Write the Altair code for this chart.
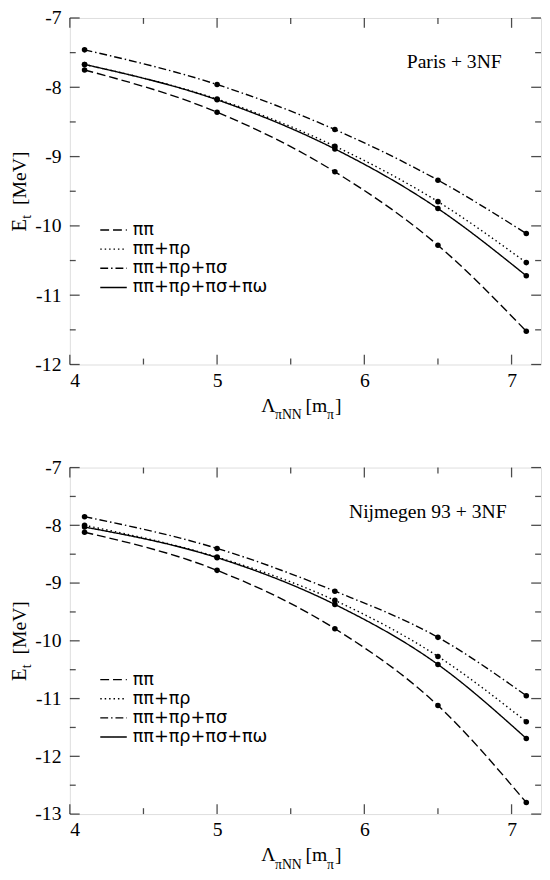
import altair as alt
import pandas as pd

# ---- data ----
lam = [4.1, 5.0, 5.8, 6.5, 7.1]
series = ["ππ", "ππ+πρ", "ππ+πρ+πσ", "ππ+πρ+πσ+πω"]

paris_pipi = [-7.75, -8.36, -9.22, -10.28, -11.52]
paris_pirho = [-7.67, -8.17, -8.85, -9.65, -10.53]
paris_pisigma = [-7.46, -7.96, -8.61, -9.34, -10.11]
paris_piomega = [-7.67, -8.18, -8.89, -9.75, -10.72]

nij_pipi = [-8.12, -8.78, -9.79, -11.12, -12.80]
nij_pirho = [-8.00, -8.55, -9.30, -10.27, -11.40]
nij_pisigma = [-7.85, -8.40, -9.14, -9.94, -10.95]
nij_piomega = [-8.03, -8.56, -9.37, -10.41, -11.69]

x_major = [4, 5, 6, 7]
x_minor = [4.5, 5.5, 6.5]

FONT = "'Liberation Serif', 'DejaVu Serif', serif"
LEG_FONT = "'DejaVu Sans', sans-serif"
W, H = 480, 353
XMIN, XMAX = 4, 7.2
dashes = [[9, 4], [1.5, 3], [8, 3, 1.5, 3], [1, 0]]


def panel(vals, ymin, ymax, label, label_x):
    rows = [{"lam": l, "E": v, "series": s}
            for s, arr in zip(series, vals) for l, v in zip(lam, arr)]
    df = pd.DataFrame(rows)
    y_major = list(range(ymin, ymax + 1))
    y_minor = [v + 0.5 for v in range(ymin, ymax)]

    xs = alt.Scale(domain=[XMIN, XMAX], nice=False, zero=False)
    ys = alt.Scale(domain=[ymin, ymax], nice=False, zero=False)
    xax = alt.Axis(values=x_major, title=None, ticks=False, domain=False, grid=False,
                   labelPadding=6, labelFontSize=20, labelFont=FONT, labelColor="black",
                   labelExpr="'' + datum.value")
    yax = alt.Axis(values=y_major, title=None, ticks=False, domain=False, grid=False,
                   labelPadding=9, labelFontSize=20, labelFont=FONT, labelColor="black",
                   labelExpr="'' + datum.value")

    base = alt.Chart(df)
    lines = base.mark_line(interpolate="monotone", color="black", strokeWidth=1.4).encode(
        x=alt.X("lam:Q", scale=xs, axis=xax),
        y=alt.Y("E:Q", scale=ys, axis=yax),
        strokeDash=alt.StrokeDash("series:N", scale=alt.Scale(domain=series, range=dashes), legend=None),
        detail="series:N",
    )
    points = base.mark_circle(size=32, color="black", opacity=1).encode(
        x=alt.X("lam:Q", scale=xs, axis=xax),
        y=alt.Y("E:Q", scale=ys, axis=yax),
    )

    layers = [lines, points]

    def xticks(vals_, size, at, off):
        d = pd.DataFrame({"v": vals_})
        return alt.Chart(d).mark_tick(orient="vertical", size=size, thickness=1.3,
                                      color="black", yOffset=off).encode(
            x=alt.X("v:Q", scale=xs, axis=xax),
            y=alt.YDatum(at, type="quantitative", scale=ys, axis=yax),
        )

    def yticks(vals_, size, at, off):
        d = pd.DataFrame({"v": vals_})
        return alt.Chart(d).mark_tick(orient="horizontal", size=size, thickness=1.3,
                                      color="black", xOffset=off).encode(
            y=alt.Y("v:Q", scale=ys, axis=yax),
            x=alt.XDatum(at, type="quantitative", scale=xs, axis=xax),
        )

    layers += [
        xticks(x_major, 10, ymin, -5), xticks(x_minor, 6, ymin, -3),
        xticks(x_major, 10, ymax, 5), xticks(x_minor, 6, ymax, 3),
        yticks(y_major, 10, XMIN, 5), yticks(y_minor, 6, XMIN, 3),
        yticks(y_major, 10, XMAX, -5), yticks(y_minor, 6, XMAX, -3),
    ]

    one = pd.DataFrame({"a": [0]})

    def txt(s, x, y, size, font=FONT, **kw):
        return alt.Chart(one).mark_text(text=s, font=font, fontSize=size, color="black", **kw).encode(
            x=alt.value(x), y=alt.value(y))

    row_y = [216, 235.5, 255, 274.5]
    for s, dsh, ry in zip(series, dashes, row_y):
        layers.append(alt.Chart(one).mark_rule(color="black", strokeWidth=1.4, strokeDash=dsh).encode(
            x=alt.value(31), x2=alt.value(58), y=alt.value(ry)))
        layers.append(txt(s, 64, ry, 18, font=LEG_FONT, align="left", baseline="middle"))

    layers.append(txt(label, label_x, 45, 20, align="right", baseline="middle"))

    c = H / 2
    layers.append(txt("E", -45, c + 41, 21, angle=270, align="left", baseline="alphabetic"))
    layers.append(txt("t", -40, c + 28, 14, angle=270, align="left", baseline="alphabetic"))
    layers.append(txt("[MeV]", -45, c + 14, 20, angle=270, align="left", baseline="alphabetic"))

    yb = H + 48
    layers.append(txt("Λ", 195, yb, 20, align="left", baseline="alphabetic"))
    layers.append(txt("πNN", 209, yb + 8, 14, align="left", baseline="alphabetic"))
    layers.append(txt("[m", 240, yb, 20, align="left", baseline="alphabetic"))
    layers.append(txt("π", 262, yb + 8, 14, align="left", baseline="alphabetic"))
    layers.append(txt("]", 270, yb, 20, align="left", baseline="alphabetic"))

    return alt.layer(*layers).properties(width=W, height=H)


top = panel([paris_pipi, paris_pirho, paris_pisigma, paris_piomega], -12, -7, "Paris + 3NF", 440)
bottom = panel([nij_pipi, nij_pirho, nij_pisigma, nij_piomega], -13, -7, "Nijmegen 93 + 3NF", 445)

chart = alt.vconcat(top, bottom, spacing=34).properties(
    padding={"left": 0, "top": -9, "right": 0, "bottom": 0}
).configure_view(stroke="black", strokeWidth=1.5).configure(background="white")

chart.save("out.html", embed_options={"renderer": "svg", "actions": False})
